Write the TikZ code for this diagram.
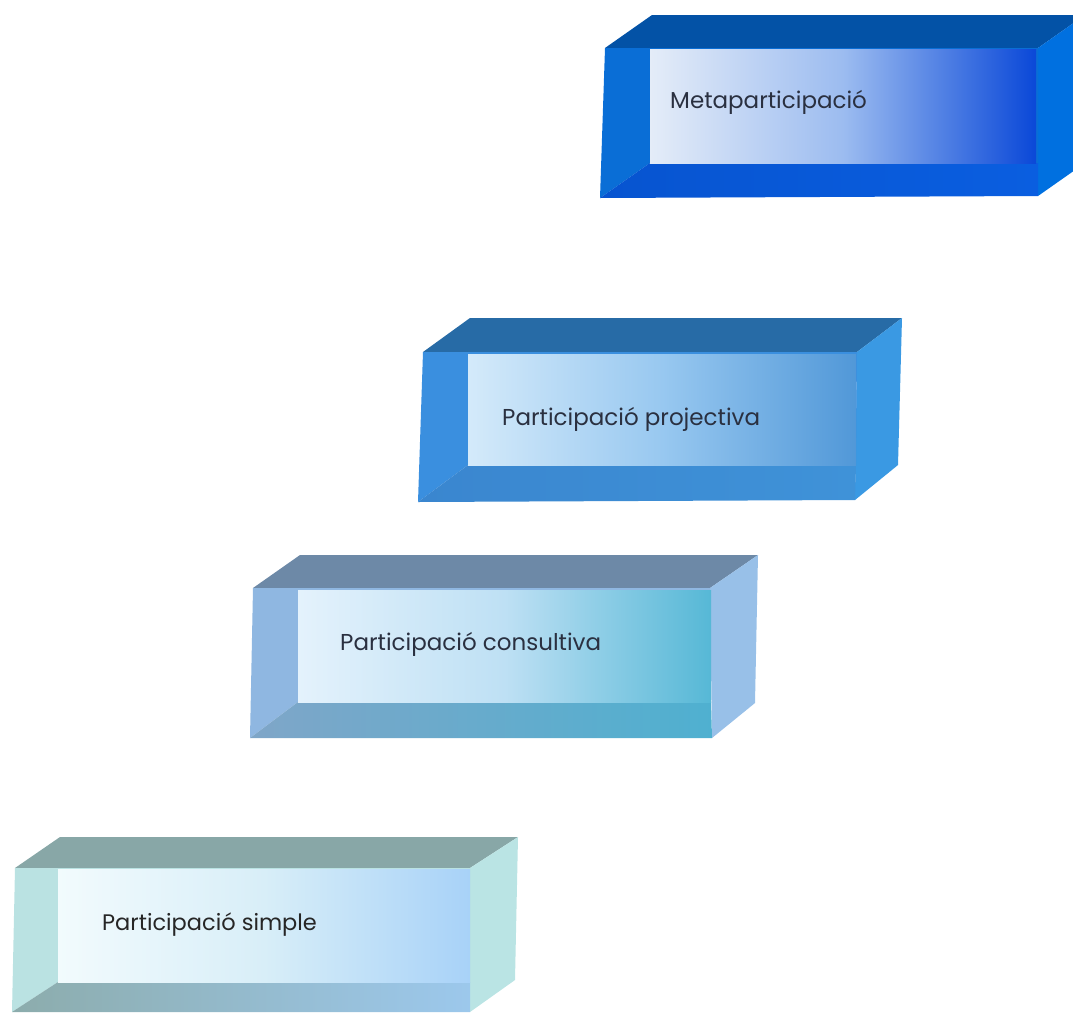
\documentclass[tikz,border=0pt]{standalone}
\usepackage{fontspec}
\setmainfont{Poppins}
\begin{document}
\begin{tikzpicture}[x=1pt,y=-1pt,
  lbl/.style={anchor=base west,inner sep=0pt,text=txtc,font=\fontsize{23}{26}\selectfont},
  face/.style={draw=none}]
\definecolor{txtc}{HTML}{2A3040}
% box 1 colours
\definecolor{aTop}{HTML}{0352A6}\definecolor{aLeft}{HTML}{0A6ED6}
\definecolor{aBotL}{HTML}{0754D0}\definecolor{aBotR}{HTML}{0A5EE0}
\definecolor{aRight}{HTML}{0070E0}
\definecolor{aInL}{HTML}{E4ECF8}\definecolor{aInM}{HTML}{9CBCF0}\definecolor{aInR}{HTML}{0A48D8}
% box 2
\definecolor{bTop}{HTML}{276BA6}\definecolor{bLeft}{HTML}{3A8FDF}
\definecolor{bBotL}{HTML}{3A86CF}\definecolor{bBotR}{HTML}{3F92D8}
\definecolor{bRight}{HTML}{3A99E3}
\definecolor{bInL}{HTML}{D4EAFA}\definecolor{bInM}{HTML}{98C8F0}\definecolor{bInR}{HTML}{5198D8}
% box 3
\definecolor{cTop}{HTML}{6D89A7}\definecolor{cLeft}{HTML}{8FB7E1}
\definecolor{cBotL}{HTML}{7FA6C8}\definecolor{cBotR}{HTML}{4FB0D0}
\definecolor{cRight}{HTML}{98C0E8}
\definecolor{cInL}{HTML}{E4F2FC}\definecolor{cInM}{HTML}{BEE0F4}\definecolor{cInR}{HTML}{56B8D6}
% box 4
\definecolor{dTop}{HTML}{88A7A7}\definecolor{dLeft}{HTML}{BAE2E2}
\definecolor{dBotL}{HTML}{8CACAC}\definecolor{dBotR}{HTML}{9CC8EC}
\definecolor{dRight}{HTML}{BAE4E4}
\definecolor{dInL}{HTML}{F2FBFD}\definecolor{dInM}{HTML}{D8EEF8}\definecolor{dInR}{HTML}{A8D2F8}

\useasboundingbox (0,0) rectangle (1073,1012);
\clip (0,0) rectangle (1073,1012);

% ---------- box 1: Metaparticipacio
\fill[aTop] (605,48) -- (652,15) -- (1085,15) -- (1038,48) -- cycle;
\fill[aRight] (1038,48) -- (1085,15) -- (1085,163) -- (1038,196) -- cycle;
\fill[aLeft] (605,48) -- (1038,48) -- (1038,163) -- (650,163) -- (600,198) -- cycle;
\shade[left color=aBotL,right color=aBotR] (600,198) -- (650,163) -- (1038,163) -- (1038,196) -- cycle;
\shade[left color=aInL,right color=aInR,middle color=aInM] (650,49) rectangle (1036,163);
\node[lbl] (meta) at (670,108) {Metaparticipació};

% ---------- box 2: Participacio projectiva
\fill[bTop] (423,352) -- (470,318) -- (902,318) -- (857,352) -- cycle;
\fill[bRight] (857,352) -- (902,318) -- (898,465) -- (855,500) -- cycle;
\fill[bLeft] (423,352) -- (857,352) -- (856,465) -- (468,465) -- (418,502) -- cycle;
\shade[left color=bBotL,right color=bBotR] (418,502) -- (468,465) -- (856,465) -- (855,500) -- cycle;
\shade[left color=bInL,right color=bInR,middle color=bInM] (468,354) rectangle (856,465);
\node[lbl] (proj) at (502,425) {Participació projectiva};

% ---------- box 3: Participacio consultiva
\fill[cTop] (253,588) -- (300,555) -- (758,555) -- (710,588) -- cycle;
\fill[cRight] (710,588) -- (758,555) -- (755,703) -- (712,738) -- cycle;
\fill[cLeft] (253,588) -- (710,588) -- (711,702) -- (298,702) -- (250,738) -- cycle;
\shade[left color=cBotL,right color=cBotR] (250,738) -- (298,702) -- (711,702) -- (712,738) -- cycle;
\shade[left color=cInL,right color=cInR,middle color=cInM] (298,590) rectangle (711,702);
\node[lbl] (cons) at (340,650) {Participació consultiva};

% ---------- box 4: Participacio simple
\fill[dTop] (15,868) -- (60,837) -- (518,837) -- (470,868) -- cycle;
\fill[dRight] (470,868) -- (518,837) -- (515,980) -- (470,1012) -- cycle;
\fill[dLeft] (15,868) -- (470,868) -- (470,982) -- (58,982) -- (12,1012) -- cycle;
\shade[left color=dBotL,right color=dBotR] (12,1012) -- (58,982) -- (470,982) -- (470,1012) -- cycle;
\shade[left color=dInL,right color=dInR,middle color=dInM] (58,869) rectangle (470,982);
\node[lbl,text=black!85,font=\fontsize{22.5}{26}\selectfont] (simp) at (102,930) {Participació simple};
\end{tikzpicture}
\end{document}
